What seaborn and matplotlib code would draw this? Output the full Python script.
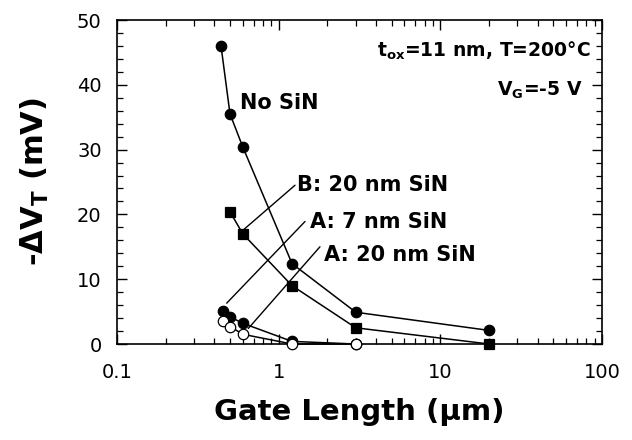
import matplotlib
matplotlib.use("Agg")
import matplotlib.pyplot as plt
import seaborn as sns
import pandas as pd
from matplotlib.ticker import LogLocator, MultipleLocator, FixedLocator, FixedFormatter

sns.set_theme(style="ticks")
plt.rcParams['font.family'] = ['DejaVu Sans']
plt.rcParams['mathtext.fontset'] = 'custom'
plt.rcParams['mathtext.rm'] = 'DejaVu Sans:bold'
plt.rcParams['mathtext.it'] = 'DejaVu Sans:bold'
plt.rcParams['mathtext.bf'] = 'DejaVu Sans:bold'
for k in ['text.color', 'axes.labelcolor', 'xtick.color', 'ytick.color', 'axes.edgecolor']:
    plt.rcParams[k] = 'black'

# Data
no_sin_x = [0.44, 0.50, 0.60, 1.21, 3.0, 20.0]
no_sin_y = [46.0, 35.5, 30.4, 12.4, 4.9, 2.1]
b20_x = [0.50, 0.60, 1.21, 3.0, 20.0]
b20_y = [20.4, 17.0, 9.0, 2.5, 0.0]
a7_x = [0.45, 0.50, 0.60, 1.21, 3.0]
a7_y = [5.1, 4.2, 3.2, 0.4, 0.0]
a20_x = [0.45, 0.50, 0.60, 1.21, 3.0]
a20_y = [3.5, 2.7, 1.5, 0.0, 0.0]

series = [
    ("No SiN", no_sin_x, no_sin_y, "o", "black"),
    ("B: 20 nm SiN", b20_x, b20_y, "s", "black"),
    ("A: 7 nm SiN", a7_x, a7_y, "o", "black"),
    ("A: 20 nm SiN", a20_x, a20_y, "o", "white"),
]

fig = plt.figure(figsize=(6.32, 4.40), dpi=100)
ax = fig.add_axes([117/632, 1-344/440, (602-117)/632, (344-20)/440])

for name, xs, ys, mk, fc in series:
    df = pd.DataFrame({"x": xs, "y": ys})
    sns.lineplot(data=df, x="x", y="y", ax=ax, color="black", lw=1.1,
                 marker=mk, markersize=7.5,
                 markerfacecolor=fc, markeredgecolor="black", markeredgewidth=0.9,
                 clip_on=False, zorder=3, legend=False)

ax.set_xscale("log")
ax.set_xlim(0.1, 100)
ax.set_ylim(0, 50)
ax.xaxis.set_major_locator(FixedLocator([0.1, 1, 10, 100]))
ax.xaxis.set_major_formatter(FixedFormatter(["0.1", "1", "10", "100"]))
ax.xaxis.set_minor_locator(LogLocator(base=10, subs=range(2, 10)))
ax.xaxis.set_minor_formatter(plt.NullFormatter())
ax.yaxis.set_major_locator(MultipleLocator(10))
ax.yaxis.set_minor_locator(MultipleLocator(2))

ax.tick_params(which="both", direction="in", top=True, right=True, color="black",
               labelcolor="black")
ax.tick_params(which="major", length=7, width=1.0, labelsize=14)
ax.tick_params(axis="x", which="major", pad=14)
ax.tick_params(axis="y", which="major", pad=11)
ax.tick_params(which="minor", length=4.5, width=0.9)
for s in ax.spines.values():
    s.set_color("black")
    s.set_linewidth(1.2)

ax.set_xlabel("Gate Length (\u00b5m)", fontsize=21, fontweight="bold", labelpad=11)
ax.set_ylabel("-\u0394V$_\\mathregular{T}$ (mV)", fontsize=22, fontweight="bold", labelpad=19)

tfs = 15
ax.text(0.58, 37.2, "No SiN", fontsize=tfs, fontweight="bold", ha="left", va="center")
ax.text(1.30, 24.5, "B: 20 nm SiN", fontsize=tfs, fontweight="bold", ha="left", va="center")
ax.text(1.57, 18.8, "A: 7 nm SiN", fontsize=tfs, fontweight="bold", ha="left", va="center")
ax.text(1.90, 13.8, "A: 20 nm SiN", fontsize=tfs, fontweight="bold", ha="left", va="center")
ax.plot([1.262, 0.604], [24.5, 17.6], color="black", lw=1.0)
ax.plot([1.455, 0.477], [18.9, 6.3], color="black", lw=1.0)
ax.plot([1.80, 0.649], [15.0, 2.4], color="black", lw=1.0)
ax.text(0.977, 0.94, "t$_\\mathregular{ox}$=11 nm, T=200\u00b0C", transform=ax.transAxes,
        fontsize=13.5, fontweight="bold", ha="right", va="top")
ax.text(0.96, 0.815, "V$_\\mathregular{G}$=-5 V", transform=ax.transAxes,
        fontsize=13.5, fontweight="bold", ha="right", va="top")

fig.savefig("out.png", dpi=100)
